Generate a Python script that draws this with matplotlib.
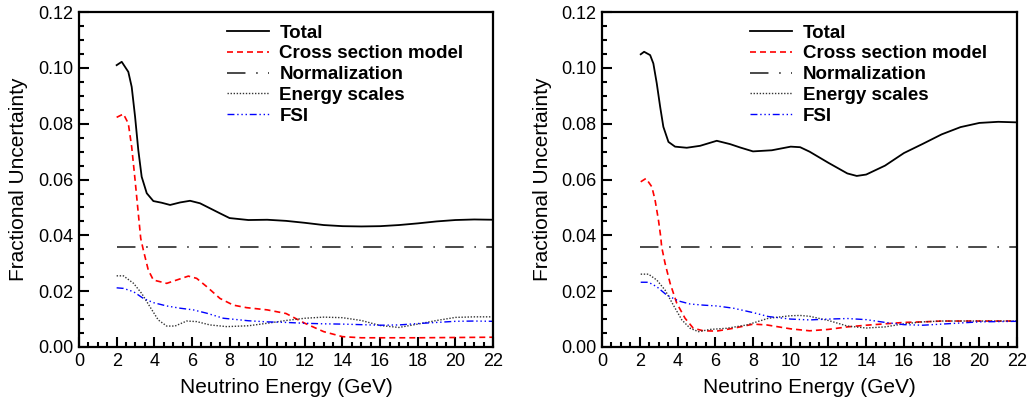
import matplotlib
matplotlib.use("Agg")
import matplotlib.pyplot as plt
from matplotlib.ticker import MultipleLocator, FormatStrFormatter

plt.rcParams["font.family"] = ["Liberation Sans", "DejaVu Sans"]

# ---- left panel ----
total_e_l = [2.0, 2.27, 2.62, 2.8, 2.98, 3.15, 3.33, 3.6, 3.95, 4.39, 4.84, 5.37, 5.9, 6.43, 6.96,
             7.49, 8.0, 9.0, 10.0, 11.0, 12.0, 13.0, 14.0, 15.0, 16.0, 17.0, 18.0, 19.0, 20.0,
             21.0, 22.0]
total_l = [0.1010, 0.1022, 0.0986, 0.0932, 0.0825, 0.0706, 0.0610, 0.0551, 0.0523, 0.0517, 0.0509,
           0.0518, 0.0524, 0.0515, 0.0497, 0.0479, 0.0462, 0.0455, 0.0456, 0.0452, 0.0445, 0.0437,
           0.0433, 0.0432, 0.0433, 0.0437, 0.0443, 0.0450, 0.0455, 0.0457, 0.0456]

xsec_e_l = [2.0, 2.36, 2.62, 2.8, 2.98, 3.15, 3.28, 3.42, 3.68, 3.95, 4.66, 5.19, 5.81, 6.25, 6.79,
            7.49, 8.2, 8.9, 10.0, 11.0, 12.0, 13.0, 14.0, 15.0, 16.0, 18.0, 20.0, 22.0]
xsec_l = [0.0823, 0.0835, 0.0801, 0.0717, 0.0598, 0.0479, 0.0389, 0.0347, 0.0276, 0.0240, 0.0228,
          0.0240, 0.0254, 0.0246, 0.0216, 0.0174, 0.0150, 0.0141, 0.0133, 0.0120, 0.0085, 0.0055,
          0.0037, 0.0033, 0.0033, 0.0033, 0.0034, 0.0035]

escale_e_l = [2.0, 2.36, 2.9, 3.33, 3.77, 4.21, 4.66, 5.1, 5.72, 6.25, 6.96, 7.85, 9.0, 10.0, 11.0,
              12.0, 13.0, 14.0, 15.0, 16.0, 17.0, 18.0, 19.0, 20.0, 21.0, 22.0]
escale_l = [0.0255, 0.0255, 0.0228, 0.0192, 0.0144, 0.0097, 0.0075, 0.0075, 0.0093, 0.0091, 0.0079,
            0.0073, 0.0076, 0.0085, 0.0095, 0.0103, 0.0107, 0.0105, 0.0095, 0.0077, 0.0070, 0.0082,
            0.0095, 0.0106, 0.0108, 0.0108]

fsi_e_l = [2.0, 2.36, 2.9, 3.42, 3.95, 4.66, 5.37, 6.07, 6.79, 7.67, 9.0, 10.0, 11.0, 12.0, 13.0,
           14.0, 15.0, 16.0, 17.0, 18.0, 19.0, 20.0, 21.0, 22.0]
fsi_l = [0.0212, 0.0210, 0.0198, 0.0174, 0.0159, 0.0147, 0.0139, 0.0133, 0.0121, 0.0103, 0.0094,
         0.0090, 0.0088, 0.0085, 0.0083, 0.0082, 0.0080, 0.0078, 0.0079, 0.0084, 0.0088, 0.0092,
         0.0093, 0.0092]

norm_l = 0.0357

# ---- right panel ----
total_e_r = [2.05, 2.23, 2.55, 2.72, 2.9, 3.08, 3.25, 3.52, 3.87, 4.49, 5.2, 6.08, 6.79, 7.32, 8.0,
             9.0, 10.0, 10.5, 11.0, 12.0, 13.0, 13.5, 14.0, 15.0, 16.0, 17.0, 18.0, 19.0, 20.0,
             21.0, 22.0]
total_r = [0.1049, 0.1058, 0.1046, 0.1016, 0.0945, 0.0861, 0.0789, 0.0735, 0.0718, 0.0714, 0.0721,
           0.0739, 0.0727, 0.0715, 0.0701, 0.0705, 0.0718, 0.0716, 0.0700, 0.0660, 0.0622, 0.0613,
           0.0618, 0.0650, 0.0695, 0.0728, 0.0762, 0.0788, 0.0803, 0.0807, 0.0805]

xsec_e_r = [2.05, 2.33, 2.64, 2.81, 2.99, 3.11, 3.16, 3.34, 3.61, 3.96, 4.4, 4.84, 5.37, 6.08, 6.96,
            8.02, 8.73, 10.0, 11.0, 12.0, 13.0, 14.0, 15.0, 16.0, 17.0, 18.0, 20.0, 22.0]
xsec_r = [0.0592, 0.0604, 0.0574, 0.0527, 0.0455, 0.0395, 0.0359, 0.0300, 0.0228, 0.0157, 0.0103,
          0.0067, 0.0058, 0.0057, 0.0067, 0.0082, 0.0079, 0.0065, 0.0058, 0.0063, 0.0072, 0.0078,
          0.0083, 0.0088, 0.0090, 0.0093, 0.0093, 0.0093]

escale_e_r = [2.05, 2.46, 2.9, 3.34, 3.78, 4.23, 4.67, 5.11, 5.73, 6.61, 7.67, 8.82, 10.0, 10.5,
              11.0, 12.0, 13.0, 14.0, 15.0, 16.0, 17.0, 18.0, 20.0, 22.0]
escale_r = [0.0261, 0.0261, 0.0240, 0.0204, 0.0150, 0.0097, 0.0067, 0.0055, 0.0063, 0.0067, 0.0079,
            0.0103, 0.0112, 0.0113, 0.0110, 0.0095, 0.0075, 0.0068, 0.0072, 0.0083, 0.0090, 0.0093,
            0.0093, 0.0093]

fsi_e_r = [2.05, 2.46, 2.9, 3.43, 4.05, 4.67, 5.37, 6.08, 6.96, 8.02, 8.82, 10.0, 11.0, 12.0, 13.0,
           14.0, 15.0, 16.0, 17.0, 18.0, 20.0, 22.0]
fsi_r = [0.0232, 0.0232, 0.0216, 0.0186, 0.0165, 0.0154, 0.0150, 0.0147, 0.0139, 0.0123, 0.0109,
         0.0100, 0.0097, 0.0100, 0.0102, 0.0098, 0.0088, 0.0080, 0.0078, 0.0082, 0.0090, 0.0092]

norm_r = 0.0357

norm_range = [2.0, 22.0]


def draw_panel(ax, total, xsec, norm, escale, fsi):
    ax.plot(*total, color="black", lw=1.3, label="Total")
    ax.plot(*xsec, color="red", lw=1.2, ls=(0, (3.6, 2.4)), label="Cross section model")
    ax.plot(norm_range, [norm, norm], color="#4a4a4a", lw=1.4,
            ls=(0, (9.5, 5.5, 0.8, 5.3)), label="Normalization")
    ax.plot(*escale, color="#333333", lw=1.0, ls=(0, (1, 1.2)), label="Energy scales")
    ax.plot(*fsi, color="blue", lw=1.0, ls=(0, (5, 2, 1, 2, 1, 2, 1, 2)), label="FSI")

    ax.set_xlim(0, 22)
    ax.set_ylim(0, 0.12)
    ax.xaxis.set_major_locator(MultipleLocator(2))
    ax.xaxis.set_minor_locator(MultipleLocator(0.5))
    ax.yaxis.set_major_locator(MultipleLocator(0.02))
    ax.yaxis.set_minor_locator(MultipleLocator(0.005))
    ax.yaxis.set_major_formatter(FormatStrFormatter("%.2f"))
    ax.tick_params(which="both", direction="in", top=False, right=False,
                   labelsize=13, width=1.5, pad=4)
    ax.tick_params(which="major", length=7.2)
    ax.tick_params(which="minor", length=3.6)
    for sp in ax.spines.values():
        sp.set_linewidth(1.6)
    ax.set_xlabel("Neutrino Energy (GeV)", fontsize=15, labelpad=6)
    ax.set_ylabel("Fractional Uncertainty", fontsize=15, labelpad=7)
    leg = ax.legend(loc="upper left", bbox_to_anchor=(0.339, 0.985), frameon=False,
                    handlelength=2.25, handletextpad=0.55, labelspacing=0.19,
                    borderaxespad=0.0, prop={"weight": "bold", "size": 13.5})
    return leg


fig = plt.figure(figsize=(10.30, 4.01), dpi=100)
ax1 = fig.add_axes([0.0767, 0.1347, 0.402, 0.835])
ax2 = fig.add_axes([0.5845, 0.1347, 0.403, 0.835])

draw_panel(ax1, (total_e_l, total_l), (xsec_e_l, xsec_l), norm_l,
           (escale_e_l, escale_l), (fsi_e_l, fsi_l))
draw_panel(ax2, (total_e_r, total_r), (xsec_e_r, xsec_r), norm_r,
           (escale_e_r, escale_r), (fsi_e_r, fsi_r))

fig.savefig("out.png", dpi=100)
plt.close(fig)
